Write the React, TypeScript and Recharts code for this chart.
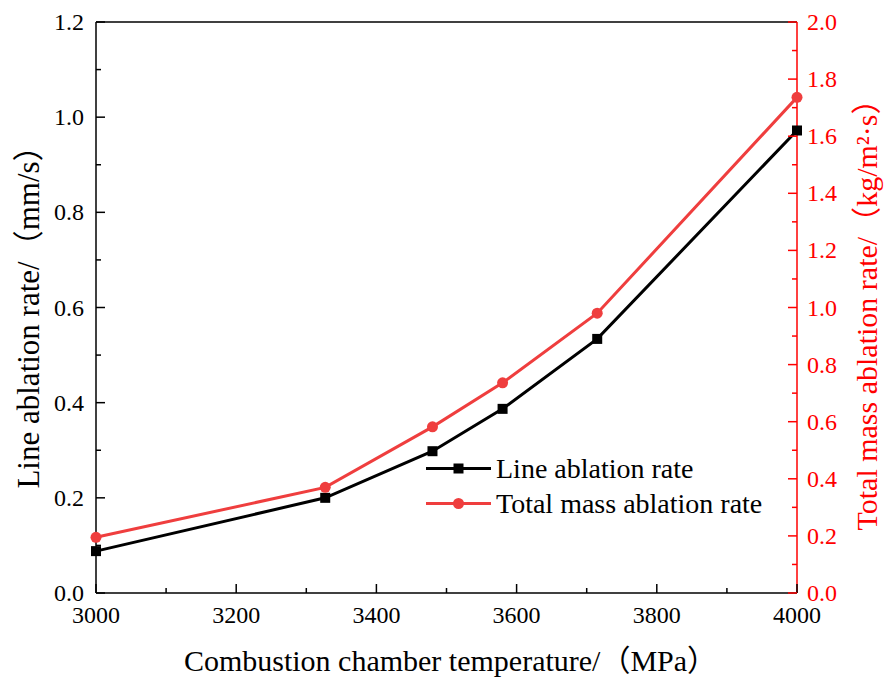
import React from 'react';
import { LineChart, Line, XAxis, YAxis, ReferenceLine, Legend, Label } from 'recharts';

const temperatures = [3000, 3327, 3480, 3580, 3715, 4000];
const lineAblation = [0.088, 0.2, 0.298, 0.387, 0.534, 0.972];
const massAblation = [0.195, 0.37, 0.582, 0.736, 0.98, 1.736];

const xTicks = [3000, 3100, 3200, 3300, 3400, 3500, 3600, 3700, 3800, 3900, 4000];
const leftTicks = [0, 0.1, 0.2, 0.3, 0.4, 0.5, 0.6, 0.7, 0.8, 0.9, 1.0, 1.1, 1.2];
const rightTicks = [0, 0.1, 0.2, 0.3, 0.4, 0.5, 0.6, 0.7, 0.8, 0.9, 1.0, 1.1, 1.2, 1.3, 1.4, 1.5, 1.6, 1.7, 1.8, 1.9, 2.0];

const seriesNames = ['Line ablation rate', 'Total mass ablation rate'];
const xTitle = 'Combustion chamber temperature/（MPa）';
const leftTitle = 'Line ablation rate/（mm/s）';
const rightTitle = 'Total mass ablation rate/（kg/m²·s）';

const data = temperatures.map((t, i) => ({ x: t, line: lineAblation[i], mass: massAblation[i] }));

const FONT = '"Liberation Serif", "Noto Sans CJK SC", serif';
const RED_AXIS = '#FF0000';
const RED_LINE = '#EF3E3E';

const XTick = (props: any) => {
  const { x, y, payload } = props;
  const v = payload.value;
  const major = Math.round(v) % 200 === 0;
  return (
    <g>
      <line x1={x} x2={x} y1={y} y2={y - (major ? 9 : 5)} stroke="#000" strokeWidth={1.5} />
      {major && (
        <text x={x} y={y + 30} textAnchor="middle" fontSize={24} fill="#000" fontFamily={FONT}>
          {v}
        </text>
      )}
    </g>
  );
};

const LeftTick = (props: any) => {
  const { x, y, payload } = props;
  const v = payload.value;
  const major = Math.round(v * 10) % 2 === 0;
  return (
    <g>
      <line x1={x} x2={x + (major ? 9 : 5)} y1={y} y2={y} stroke="#000" strokeWidth={1.5} />
      {major && (
        <text x={x - 12} y={y + 8} textAnchor="end" fontSize={24} fill="#000" fontFamily={FONT}>
          {v.toFixed(1)}
        </text>
      )}
    </g>
  );
};

const RightTick = (props: any) => {
  const { x, y, payload } = props;
  const v = payload.value;
  const major = Math.round(v * 10) % 2 === 0;
  return (
    <g>
      <line x1={x} x2={x - (major ? 9 : 5)} y1={y} y2={y} stroke={RED_AXIS} strokeWidth={1.5} />
      {major && (
        <text x={x + 10} y={y + 8} textAnchor="start" fontSize={24} fill={RED_AXIS} fontFamily={FONT}>
          {v.toFixed(1)}
        </text>
      )}
    </g>
  );
};

const SquareDot = (p: any) => (
  <rect key={`s${p.index}`} x={p.cx - 5} y={p.cy - 5} width={10} height={10} fill="#000" />
);
const CircleDot = (p: any) => <circle key={`c${p.index}`} cx={p.cx} cy={p.cy} r={5.5} fill={RED_LINE} />;

const renderLegend = () => (
  <div style={{ fontFamily: FONT }}>
    {seriesNames.map((name, i) => (
      <div key={name} style={{ display: 'flex', alignItems: 'center', height: 35 }}>
        <svg width={72} height={35} style={{ display: 'block' }}>
          <line x1={2} x2={67} y1={17.5} y2={17.5} stroke={i === 0 ? '#000' : RED_LINE} strokeWidth={3} />
          {i === 0 ? (
            <rect x={29.5} y={12.5} width={10} height={10} fill="#000" />
          ) : (
            <circle cx={34.5} cy={17.5} r={5.5} fill={RED_LINE} />
          )}
        </svg>
        <span style={{ fontSize: 28, color: '#000', lineHeight: '35px', whiteSpace: 'nowrap' }}>{name}</span>
      </div>
    ))}
  </div>
);

export default function App() {
  return (
    <div style={{ position: 'absolute', left: 0, top: 0, width: 890, height: 678, background: '#fff', fontFamily: FONT }}>
      <LineChart width={890} height={678} data={data} margin={{ top: 22, right: 0, bottom: 0, left: 0 }}>
        <XAxis
          dataKey="x"
          type="number"
          domain={[3000, 4000]}
          ticks={xTicks}
          interval={0}
          tickSize={0}
          tickMargin={0}
          tickLine={false}
          tick={<XTick />}
          height={85}
          axisLine={{ stroke: '#000', strokeWidth: 1.5 }}
        >
          <Label
            content={(p: any) => {
              const vb = p.viewBox;
              return (
                <text x={vb.x + vb.width / 2 + 4} y={vb.y + 78} textAnchor="middle" fontSize={30} fill="#000" fontFamily={FONT}>
                  {xTitle}
                </text>
              );
            }}
          />
        </XAxis>
        <YAxis
          yAxisId="left"
          orientation="left"
          domain={[0, 1.2]}
          ticks={leftTicks}
          interval={0}
          tickSize={0}
          tickMargin={0}
          tickLine={false}
          tick={<LeftTick />}
          width={96}
          axisLine={{ stroke: '#000', strokeWidth: 1.5 }}
        >
          <Label
            content={(p: any) => {
              const vb = p.viewBox;
              const cx = 28;
              const cy = vb.y + vb.height / 2 + 2;
              return (
                <text x={cx} y={cy} transform={`rotate(-90, ${cx}, ${cy})`} textAnchor="middle" dominantBaseline="central" fontSize={31} fill="#000" fontFamily={FONT}>
                  {leftTitle}
                </text>
              );
            }}
          />
        </YAxis>
        <YAxis
          yAxisId="right"
          orientation="right"
          domain={[0, 2.0]}
          ticks={rightTicks}
          interval={0}
          tickSize={0}
          tickMargin={0}
          tickLine={false}
          tick={<RightTick />}
          width={93}
          axisLine={{ stroke: RED_AXIS, strokeWidth: 1.5 }}
        >
          <Label
            content={(p: any) => {
              const vb = p.viewBox;
              const cx = 866;
              const cy = vb.y + vb.height / 2;
              return (
                <text x={cx} y={cy} transform={`rotate(-90, ${cx}, ${cy})`} textAnchor="middle" dominantBaseline="central" fontSize={30} fill={RED_AXIS} fontFamily={FONT}>
                  {rightTitle}
                </text>
              );
            }}
          />
        </YAxis>
        <ReferenceLine yAxisId="left" y={1.2} stroke="#000" strokeWidth={1.5} />
        <Legend
          layout="vertical"
          align="center"
          verticalAlign="middle"
          content={renderLegend}
          wrapperStyle={{ position: 'absolute', left: 424, top: 451, width: 400, height: 70 }}
        />
        <Line
          yAxisId="left"
          dataKey="line"
          name={seriesNames[0]}
          stroke="#000"
          strokeWidth={3}
          dot={SquareDot}
          isAnimationActive={false}
        />
        <Line
          yAxisId="right"
          dataKey="mass"
          name={seriesNames[1]}
          stroke={RED_LINE}
          strokeWidth={3}
          dot={CircleDot}
          isAnimationActive={false}
        />
      </LineChart>
    </div>
  );
}
